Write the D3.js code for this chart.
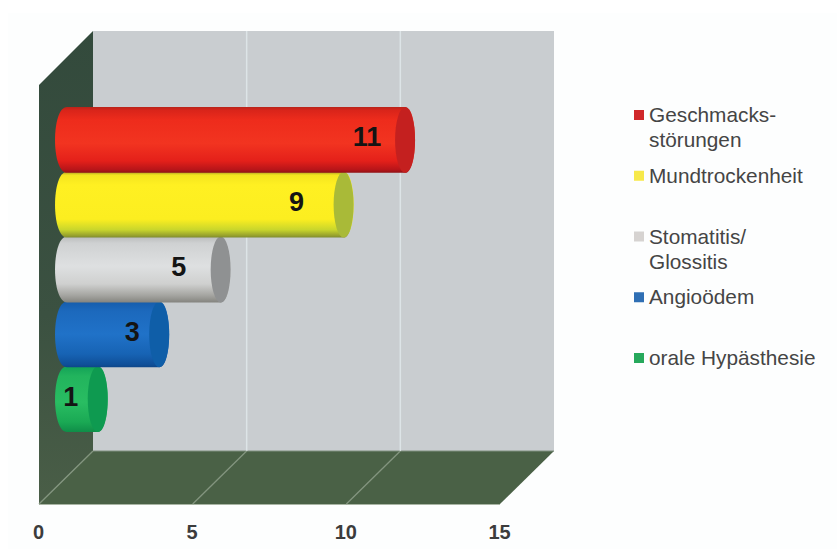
<!DOCTYPE html>
<html lang="de">
<head>
<meta charset="utf-8">
<title>Nebenwirkungen im Mundraum</title>
<script src="https://cdn.jsdelivr.net/npm/d3@7"></script>
<style>
  html, body { margin: 0; padding: 0; background: #fff; }
  svg { display: block; font-family: "Liberation Sans", Arial, sans-serif; }
</style>
</head>
<body>
<svg id="chart" width="837" height="549"></svg>
<script>
const categories = ["Geschmacksstörungen", "Mundtrockenheit", "Stomatitis/Glossitis", "Angioödem", "orale Hypästhesie"];
const values = [11, 9, 5, 3, 1];
const tickValues = [0, 5, 10, 15];
const legendLines = [["Geschmacks-", "störungen"], ["Mundtrockenheit"], ["Stomatitis/", "Glossitis"], ["Angioödem"], ["orale Hypästhesie"]];
const bodyStops = [
  [[0, "#b8241a"], [.05, "#d9241a"], [.2, "#ee2c1c"], [.55, "#f23420"], [.82, "#e4201a"], [.95, "#b81519"], [1, "#8f1216"]],
  [[0, "#a99a24"], [.05, "#f4e41f"], [.2, "#fff022"], [.72, "#fcee20"], [.88, "#c9d62c"], [.97, "#96a02c"], [1, "#7d8a30"]],
  [[0, "#b9bbbb"], [.1, "#cfd1d2"], [.45, "#dee0e1"], [.72, "#cfd0cf"], [.9, "#a3a39f"], [1, "#84847f"]],
  [[0, "#155cab"], [.15, "#1c69bd"], [.5, "#2072c8"], [.8, "#1763b4"], [.96, "#0f4f98"], [1, "#0e4688"]],
  [[0, "#12a257"], [.15, "#22b45d"], [.55, "#29bd62"], [.85, "#1aa954"], [1, "#0f8d48"]]
];
const capColors = ["#c4201f", "#a9ba38", "#8f9192", "#0f5ea8", "#0e9a50"];
const swatchColors = ["#d0282a", "#f7e94a", "#d6d3d1", "#2f6fb4", "#27a95c"];

const svg = d3.select("#chart");
const defs = svg.append("defs");

// Frame of the box: front edge, depth offset, wall and floor heights
const frontLeft = 39, frontRight = 500, depthX = 54, depthY = 53;
const wallTop = 31, wallBottom = 451, floorFront = wallBottom + depthY;

const xFront = d3.scaleLinear().domain([0, 15]).range([frontLeft, frontRight]);
const xBack = v => xFront(v) + depthX;
const xBar = v => xFront(v) + depthX / 2 + 1;
const yBar = d3.scaleBand().domain(categories).range([107, 431]).padding(0);

// Faint page panel
svg.append("rect").attr("x", 8).attr("y", 13).attr("width", 829).attr("height", 536).attr("fill", "#fdfefe");

// Back wall
svg.append("rect")
  .attr("x", xBack(0)).attr("y", wallTop)
  .attr("width", xBack(15) - xBack(0)).attr("height", wallBottom - wallTop)
  .attr("fill", "#c9cdd0");

// Side wall
const wallGrad = defs.append("linearGradient").attr("id", "sideWall").attr("x1", 0).attr("x2", 0).attr("y1", 0).attr("y2", 1);
wallGrad.append("stop").attr("offset", 0).attr("stop-color", "#334a3c");
wallGrad.append("stop").attr("offset", .6).attr("stop-color", "#3b5141");
wallGrad.append("stop").attr("offset", 1).attr("stop-color", "#4a5e47");
svg.append("polygon")
  .attr("points", [[xFront(0), wallTop + depthY + 1], [xBack(0), wallTop], [xBack(0), wallBottom], [xFront(0), floorFront]].join(" "))
  .attr("fill", "url(#sideWall)");

// Floor
svg.append("polygon")
  .attr("points", [[xFront(0), floorFront], [xBack(0), wallBottom], [xBack(15), wallBottom], [xFront(15), floorFront]].join(" "))
  .attr("fill", "#4a6146");
svg.append("line")
  .attr("x1", xFront(0)).attr("x2", xFront(15)).attr("y1", floorFront + .5).attr("y2", floorFront + .5)
  .attr("stroke", "#a9b5a4").attr("stroke-width", 1);
svg.append("line")
  .attr("x1", xBack(0)).attr("x2", xBack(15)).attr("y1", wallBottom).attr("y2", wallBottom)
  .attr("stroke", "#7f8f7e").attr("stroke-width", 1);

// Grid lines on the wall and across the floor
const gridValues = tickValues.slice(1, -1);
svg.selectAll("line.wall-grid").data(gridValues).join("line")
  .attr("class", "wall-grid")
  .attr("x1", d => xBack(d)).attr("x2", d => xBack(d))
  .attr("y1", wallTop).attr("y2", wallBottom)
  .attr("stroke", "#dde4e7").attr("stroke-width", 1.5);
svg.selectAll("line.floor-grid").data(tickValues.slice(0, -1)).join("line")
  .attr("class", "floor-grid")
  .attr("x1", d => xFront(d)).attr("x2", d => xBack(d))
  .attr("y1", floorFront).attr("y2", wallBottom)
  .attr("stroke", "#83957f").attr("stroke-width", 1.3);

// Cylinders, lowest first so that each one lies over the next
const capRx = 10, tailRx = 12;
const labelInset = [38, 47, 42, 27, 27];
const rows = categories.map((c, i) => ({ c, i, v: values[i] })).reverse();

rows.forEach(d => {
  const grad = defs.append("linearGradient").attr("id", "body" + d.i)
    .attr("x1", 0).attr("x2", 0).attr("y1", 0).attr("y2", 1);
  bodyStops[d.i].forEach(s => grad.append("stop").attr("offset", s[0]).attr("stop-color", s[1]));
});

const bars = svg.selectAll("g.bar").data(rows).join("g").attr("class", "bar");

bars.append("path")
  .attr("d", d => {
    const top = yBar(d.c), h = yBar.bandwidth() + 1;
    const x0 = xBar(0), x1 = xBar(d.v);
    const p = d3.path();
    p.moveTo(x0, top);
    p.lineTo(x1, top);
    p.bezierCurveTo(x1 + capRx * 1.33, top, x1 + capRx * 1.33, top + h, x1, top + h);
    p.lineTo(x0, top + h);
    p.bezierCurveTo(x0 - tailRx * 1.33, top + h, x0 - tailRx * 1.33, top, x0, top);
    p.closePath();
    return p.toString();
  })
  .attr("fill", d => `url(#body${d.i})`);

bars.append("ellipse")
  .attr("cx", d => xBar(d.v))
  .attr("cy", d => yBar(d.c) + (yBar.bandwidth() + 1) / 2)
  .attr("rx", capRx)
  .attr("ry", (yBar.bandwidth() + 1) / 2)
  .attr("fill", d => capColors[d.i]);

bars.append("text")
  .attr("x", d => xBar(d.v) - labelInset[d.i])
  .attr("y", d => yBar(d.c) + yBar.bandwidth() / 2 + 7)
  .attr("text-anchor", "middle")
  .attr("font-size", 27)
  .attr("font-weight", "bold")
  .attr("fill", "#141414")
  .text(d => d.v);

// Value axis along the front edge
const axis = d3.axisBottom(xFront).tickValues(tickValues).tickSize(0).tickPadding(0);
const axisG = svg.append("g").attr("transform", `translate(-1, ${floorFront + 21})`).call(axis);
axisG.select(".domain").remove();
axisG.selectAll("text")
  .attr("font-family", '"Liberation Sans", Arial, sans-serif')
  .attr("font-size", 20)
  .attr("font-weight", "bold")
  .attr("fill", "#3c3c3c");

// Legend
const yLegend = d3.scalePoint().domain(categories).range([115, 358]);
const legend = svg.selectAll("g.legend").data(categories).join("g").attr("class", "legend");
legend.append("rect")
  .attr("x", 634).attr("width", 10).attr("height", 10)
  .attr("y", d => yLegend(d) - 5)
  .attr("fill", (d, i) => swatchColors[i]);
legend.append("text")
  .attr("font-size", 20.8)
  .attr("fill", "#454545")
  .each(function (d, i) {
    d3.select(this).selectAll("tspan").data(legendLines[i]).join("tspan")
      .attr("x", 649)
      .attr("y", (line, j) => yLegend(d) + 7 + j * 25)
      .text(line => line);
  });
</script>
</body>
</html>
